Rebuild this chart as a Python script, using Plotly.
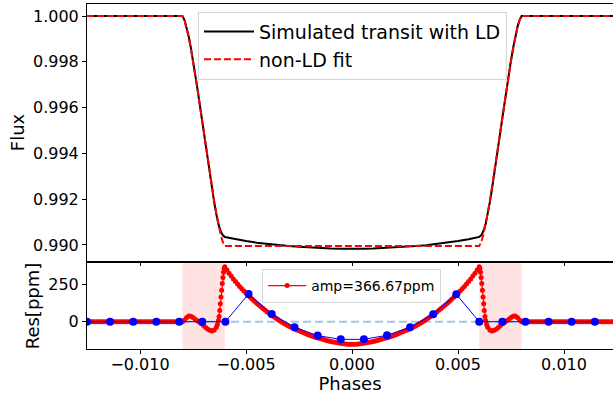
import numpy as np
import plotly.graph_objects as go

# ---------------- data ----------------
# Residual curve: phase in units of 1e-4, residual in ppm
res_phase_left_out_e4 = [-125, -124, -123, -122, -121, -120, -119, -118, -117, -116, -115, -114, -113,
                         -112, -111, -110, -109, -108, -107, -106, -105, -104, -103, -102, -101, -100,
                         -99, -98, -97, -96, -95, -94, -93, -92, -91, -90, -89, -88, -87, -86, -85, -84,
                         -83, -82, -81]
res_left_out_ppm = [0, 0, 0, 0, 0, 0, 0, 0, 0, 0, 0, 0, 0, 0, 0, 0, 0, 0, 0, 0, 0, 0, 0,
                    0, 0, 0, 0, 0, 0, 0, 0, 0, 0, 0, 0, 0, 0, 0, 0, 0, 0, 0, 0, 0, 0]

res_phase_ingress_e4 = [-80, -79, -78, -77, -76, -75, -74, -73, -72, -71, -70, -69, -68, -67, -66, -65,
                        -64, -63.5, -63, -62.7, -62.4, -62.1, -61.8, -61.5, -61.2, -60.9, -60.6, -60.3]
res_ingress_ppm = [0, 12, 28, 38, 36, 28, 17, 6, -3, -13, -25, -38, -50, -58, -62, -55,
                   -37, -18, 8, 35, 75, 120, 165, 210, 255, 295, 330, 355]

res_phase_intransit_e4 = [-60, -59, -58, -57, -56, -55, -54, -53, -52, -51, -50, -49, -48, -47, -46,
                          -45, -44, -43, -42, -41, -40, -39, -38, -37, -36, -35, -34, -33, -32, -31,
                          -30, -29, -28, -27, -26, -25, -24, -23, -22, -21, -20, -19, -18, -17, -16,
                          -15, -14, -13, -12, -11, -10, -9, -8, -7, -6, -5, -4, -3, -2, -1, 0,
                          1, 2, 3, 4, 5, 6, 7, 8, 9, 10, 11, 12, 13, 14, 15, 16, 17, 18, 19, 20,
                          21, 22, 23, 24, 25, 26, 27, 28, 29, 30, 31, 32, 33, 34, 35, 36, 37, 38, 39,
                          40, 41, 42, 43, 44, 45, 46, 47, 48, 49, 50, 51, 52, 53, 54, 55, 56, 57, 58,
                          59, 60]
res_intransit_ppm = [367, 345, 324, 305, 286, 269, 252, 236, 220, 205, 191, 177, 163, 150, 137,
                     124, 112, 100, 88, 76, 65, 54, 44, 34, 24, 14, 5, -4, -12, -20,
                     -28, -35, -42, -49, -55, -61, -67, -73, -79, -85, -90, -95, -100, -105, -109,
                     -113, -117, -121, -125, -129, -132, -135, -138, -141, -143, -145, -147, -149,
                     -150, -151, -151,
                     -151, -150, -149, -147, -145, -143, -141, -138, -135, -132, -129, -125, -121,
                     -117, -113, -109, -105, -100, -95, -90, -85, -79, -73, -67, -61, -55, -49,
                     -42, -35, -28, -20, -12, -4, 5, 14, 24, 34, 44, 54, 65, 76, 88, 100, 112,
                     124, 137, 150, 163, 177, 191, 205, 220, 236, 252, 269, 286, 305, 324, 345, 367]

res_phase_egress_e4 = [60.3, 60.6, 60.9, 61.2, 61.5, 61.8, 62.1, 62.4, 62.7, 63, 63.5, 64, 65, 66,
                       67, 68, 69, 70, 71, 72, 73, 74, 75, 76, 77, 78, 79, 80]
res_egress_ppm = [355, 330, 295, 255, 210, 165, 120, 75, 35, 8, -18, -37, -55, -62,
                  -58, -50, -38, -25, -13, -3, 6, 17, 28, 36, 38, 28, 12, 0]

res_phase_right_out_e4 = [81, 82, 83, 84, 85, 86, 87, 88, 89, 90, 91, 92, 93, 94, 95, 96, 97, 98, 99,
                          100, 101, 102, 103, 104, 105, 106, 107, 108, 109, 110, 111, 112, 113, 114,
                          115, 116, 117, 118, 119, 120, 121, 122, 123, 124]
res_right_out_ppm = [0, 0, 0, 0, 0, 0, 0, 0, 0, 0, 0, 0, 0, 0, 0, 0, 0, 0, 0, 0, 0, 0,
                     0, 0, 0, 0, 0, 0, 0, 0, 0, 0, 0, 0, 0, 0, 0, 0, 0, 0, 0, 0, 0, 0]

# Binned residuals (blue points)
bin_phase = [-0.0125, -0.01141, -0.01032, -0.00923, -0.00815, -0.00706, -0.00597, -0.00488,
             -0.00379, -0.00271, -0.00162, -0.00053, 0.00056, 0.00165, 0.00274, 0.00383,
             0.00492, 0.00600, 0.00709, 0.00818, 0.00927, 0.01036, 0.01145]
bin_res_ppm = [0, 0, 0, 0, 0, 0, 0, 185, 51, -37, -93, -118, -118, -91, -37, 49,
               183, 0, 0, 0, 0, 0, 0]

# Light curves (top panel): phase in units of 1e-4
lc_phase_e4 = [-125, -80, -79, -78, -77, -76, -75, -74, -73, -72, -71, -70, -69, -68, -67, -66,
               -65, -64, -63, -62, -61, -60, -55, -50, -45, -40, -35, -30, -25, -20, -15, -10,
               -5, 0, 5, 10, 15, 20, 25, 30, 35, 40, 45, 50, 55, 60, 61, 62, 63, 64, 65, 66, 67,
               68, 69, 70, 71, 72, 73, 74, 75, 76, 77, 78, 79, 80, 125]
ld_flux = [1.00000, 1.00000, 0.99982, 0.99951, 0.99910, 0.99861, 0.99807, 0.99748, 0.99688,
           0.99625, 0.99560, 0.99496, 0.99430, 0.99365, 0.99302, 0.99243, 0.99186, 0.99134,
           0.99090, 0.99062, 0.99043, 0.99035, 0.99025, 0.99017, 0.99010, 0.99004, 0.98999,
           0.98995, 0.98992, 0.98989, 0.98987, 0.98985, 0.98984, 0.98983, 0.98984, 0.98985,
           0.98987, 0.98989, 0.98992, 0.98995, 0.98999, 0.99004, 0.99010, 0.99017, 0.99025,
           0.99035, 0.99043, 0.99062, 0.99090, 0.99134, 0.99186, 0.99243, 0.99302, 0.99365,
           0.99430, 0.99496, 0.99560, 0.99625, 0.99688, 0.99748, 0.99807, 0.99861, 0.99910,
           0.99951, 0.99982, 1.00000, 1.00000]

fit_phase_e4 = [-125, -80, -79, -78, -77, -76, -75, -74, -73, -72, -71, -70, -69, -68, -67, -66,
                -65, -64, -63, -62, -61, -60, 60, 61, 62, 63, 64, 65, 66, 67, 68, 69, 70, 71, 72,
                73, 74, 75, 76, 77, 78, 79, 80, 125]
fit_flux = [1.00000, 1.00000, 0.99981, 0.99948, 0.99906, 0.99857, 0.99804, 0.99746, 0.99687,
            0.99625, 0.99561, 0.99498, 0.99434, 0.99370, 0.99308, 0.99249, 0.99191, 0.99138,
            0.99089, 0.99047, 0.99014, 0.98995, 0.98995, 0.99014, 0.99047, 0.99089, 0.99138,
            0.99191, 0.99249, 0.99308, 0.99370, 0.99434, 0.99498, 0.99561, 0.99625, 0.99687,
            0.99746, 0.99804, 0.99857, 0.99906, 0.99948, 0.99981, 1.00000, 1.00000]

transit_windows = [[-0.008, -0.006], [0.006, 0.008]]
amp_ppm = 366.67
x_ticks = [-0.010, -0.005, 0.0, 0.005, 0.010]
flux_ticks = [0.990, 0.992, 0.994, 0.996, 0.998, 1.000]
res_ticks = [0, 250]

# ---------------- assemble ----------------
res_phase = np.array(res_phase_left_out_e4 + res_phase_ingress_e4 + res_phase_intransit_e4
                     + res_phase_egress_e4 + res_phase_right_out_e4, dtype=float) * 1e-4
res_vals = np.array(res_left_out_ppm + res_ingress_ppm + res_intransit_ppm
                    + res_egress_ppm + res_right_out_ppm, dtype=float)
assert len(res_phase) == len(res_vals)
assert len(lc_phase_e4) == len(ld_flux)
assert len(fit_phase_e4) == len(fit_flux)
assert len(bin_phase) == len(bin_res_ppm)

lc_phase = np.array(lc_phase_e4, dtype=float) * 1e-4
fit_phase = np.array(fit_phase_e4, dtype=float) * 1e-4

FONT = "DejaVu Sans"
xr = [-0.0125, 0.01231]

fig = go.Figure()

# top panel
fig.add_trace(go.Scatter(x=lc_phase, y=ld_flux, mode="lines",
                         line=dict(color="black", width=2),
                         name="Simulated transit with LD", xaxis="x", yaxis="y",
                         legend="legend"))
fig.add_trace(go.Scatter(x=fit_phase, y=fit_flux, mode="lines",
                         line=dict(color="red", width=2, dash="7px,3px"),
                         name="non-LD fit", xaxis="x", yaxis="y", legend="legend"))

# bottom panel
fig.add_trace(go.Scatter(x=res_phase, y=res_vals, mode="lines+markers",
                         line=dict(color="red", width=1.2),
                         marker=dict(color="red", size=5),
                         name=f"amp={amp_ppm:.2f}ppm", xaxis="x2", yaxis="y2",
                         legend="legend2"))
fig.add_trace(go.Scatter(x=bin_phase, y=bin_res_ppm, mode="lines+markers",
                         line=dict(color="blue", width=1),
                         marker=dict(color="blue", size=8),
                         showlegend=False, xaxis="x2", yaxis="y2"))

shapes = []
for x0, x1 in transit_windows:
    shapes.append(dict(type="rect", xref="x2", yref="y2 domain", x0=x0, x1=x1, y0=0, y1=1,
                       fillcolor="rgba(255,0,0,0.11)", line=dict(width=0), layer="below"))
shapes.append(dict(type="line", xref="x2 domain", yref="y2", x0=0, x1=1, y0=0, y1=0,
                   line=dict(color="#a3c8e4", width=2, dash="8px,4px"), layer="below"))

axis_common = dict(showgrid=False, zeroline=False, showline=True, linecolor="black",
                   linewidth=1, ticks="outside", ticklen=4, tickwidth=1, tickcolor="black",
                   tickfont=dict(family=FONT, size=16, color="black"))

fig.update_layout(
    width=613, height=394,
    margin=dict(l=87, r=0, t=4, b=45),
    paper_bgcolor="white", plot_bgcolor="white",
    font=dict(family=FONT, color="black"),
    shapes=shapes,
    xaxis=dict(domain=[0, 1], anchor="y", range=xr, matches="x2", tickvals=x_ticks,
               showticklabels=False, mirror=True, **axis_common),
    yaxis=dict(domain=[0.2551, 1], anchor="x", range=[0.98930, 1.000524],
               tickvals=flux_ticks, tickformat=".3f", mirror=False,
               title=dict(text="Flux", font=dict(family=FONT, size=18), standoff=3),
               **axis_common),
    xaxis2=dict(domain=[0, 1], anchor="y2", range=xr, tickvals=x_ticks, tickformat=".3f",
                mirror=True, ticklabelstandoff=-3,
                title=dict(text="Phases", font=dict(family=FONT, size=18), standoff=2),
                **axis_common),
    yaxis2=dict(domain=[0, 0.2493], anchor="x2", range=[-182.5, 392.4], tickvals=res_ticks,
                mirror=False,
                title=dict(text="Res[ppm]", font=dict(family=FONT, size=18), standoff=3),
                **axis_common),
    legend=dict(x=0.211, y=0.978, xanchor="left", yanchor="top",
                bgcolor="rgba(255,255,255,0.85)", bordercolor="#d6d6d6", borderwidth=1,
                itemwidth=50,
                font=dict(family=FONT, size=19, color="black")),
    legend2=dict(x=0.333, y=0.232, xanchor="left", yanchor="top",
                 bgcolor="rgba(255,255,255,0.85)", bordercolor="#d6d6d6", borderwidth=1,
                 itemwidth=38,
                 font=dict(family=FONT, size=14, color="black")),
)

fig.write_html("out.html")
